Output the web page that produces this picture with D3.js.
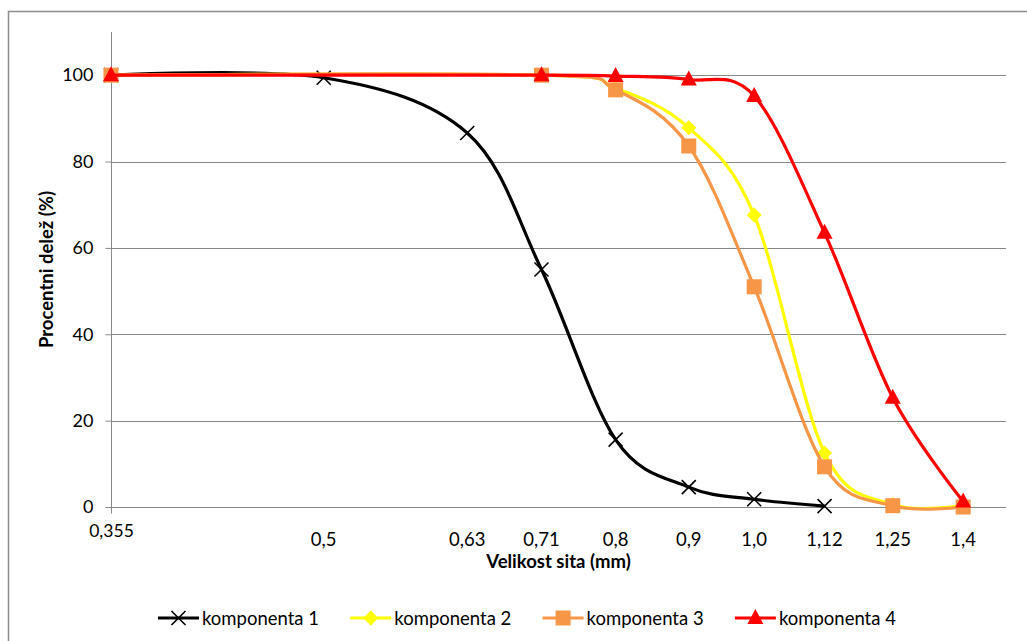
<!DOCTYPE html>
<html><head><meta charset="utf-8">
<script src="https://cdn.jsdelivr.net/npm/d3@7"></script>
<style>body{margin:0;background:#fff} svg{display:block} text{font-family:Lato,"Open Sans",sans-serif;fill:#000}</style>
</head><body><svg id="c" width="1027" height="641"></svg>
<script>
// ---- data ----
const sieveLabelValues = [0.5, 0.63, 0.71, 0.8, 0.9, 1.0, 1.12, 1.25, 1.4];
const sieveLabelTexts  = ["0,5","0,63","0,71","0,8","0,9","1,0","1,12","1,25","1,4"];
const xAxisTicks = [0.355];
const yTicks = [0, 20, 40, 60, 80, 100];
const seriesNames = ["komponenta 1","komponenta 2","komponenta 3","komponenta 4"];
const k1x = [0.355, 0.5, 0.63, 0.71, 0.8, 0.9, 1.0, 1.12];
const k1y = [100, 99.4, 86.6, 55.0, 15.6, 4.6, 1.8, 0.2];
const k2x = [0.355, 0.71, 0.8, 0.9, 1.0, 1.12, 1.25, 1.4];
const k2y = [100, 100, 97.0, 87.8, 67.6, 12.5, 0.6, 0.4];
const k3x = [0.355, 0.71, 0.8, 0.9, 1.0, 1.12, 1.25, 1.4];
const k3y = [100, 100, 96.6, 83.6, 51.0, 9.3, 0.3, 0.0];
const k4x = [0.355, 0.71, 0.8, 0.9, 1.0, 1.12, 1.25, 1.4];
const k4y = [100, 100, 99.8, 99.0, 95.2, 63.5, 25.3, 1.3];

const colors = ["#000000", "#FFFF00", "#F79646", "#FF0000"];
const markerTypes = ["x", "diamond", "square", "triangle"];

const series = [
  {name: seriesNames[0], x: k1x, y: k1y},
  {name: seriesNames[1], x: k2x, y: k2y},
  {name: seriesNames[2], x: k3x, y: k3y},
  {name: seriesNames[3], x: k4x, y: k4y}
];

// ---- layout ----
const svg = d3.select("#c");
const pLeft = 111, pRight = 1006, pTop = 32, pBottom = 507;
const x = d3.scaleLog().domain([0.355, 1.5]).range([pLeft, pRight]);
const y = d3.scaleLinear().domain([0, 110]).range([pBottom, pTop]);
const grid = "#888888";
const fs = 18.5;

// outer border
svg.append("rect").attr("x", 8.5).attr("y", 11.5).attr("width", 1030).attr("height", 640)
  .attr("fill", "none").attr("stroke", "#8c8c8c").attr("stroke-width", 1.5);

// gridlines
svg.append("g").selectAll("line").data(yTicks).join("line")
  .attr("x1", pLeft).attr("x2", pRight)
  .attr("y1", d => Math.round(y(d)) + 0.5).attr("y2", d => Math.round(y(d)) + 0.5)
  .attr("stroke", grid).attr("stroke-width", 1);

// y axis
const yAxis = svg.append("g").attr("transform", `translate(${pLeft + 0.5},0)`)
  .call(d3.axisLeft(y).tickValues(yTicks).tickSize(6).tickPadding(12).tickFormat(d3.format("d")));
yAxis.select(".domain").attr("stroke", grid).attr("d", `M0,${pTop}V${pBottom}`);
yAxis.selectAll(".tick line").attr("stroke", grid);
yAxis.selectAll(".tick text").attr("font-size", 18).attr("font-family", "Lato").attr("fill", "#000");

// x axis (log axis: only the minimum gets a tick)
const xAxis = svg.append("g").attr("transform", `translate(0,${pBottom + 0.5})`)
  .call(d3.axisBottom(x).tickValues(xAxisTicks).tickSize(6).tickPadding(11)
    .tickFormat(d => String(d).replace(".", ",")));
xAxis.select(".domain").remove();
xAxis.selectAll(".tick line").attr("stroke", grid);
xAxis.selectAll(".tick text").attr("font-size", 17.5).attr("font-family", "Lato").attr("fill", "#000");

// sieve size labels
svg.append("g").selectAll("text").data(sieveLabelValues).join("text")
  .attr("x", d => x(d)).attr("y", 546)
  .attr("text-anchor", "middle").attr("font-size", fs)
  .text((d, i) => sieveLabelTexts[i]);

// axis titles
svg.append("text").attr("x", (pLeft + pRight) / 2).attr("y", 568)
  .attr("text-anchor", "middle").attr("font-weight", "bold").attr("font-size", fs)
  .text("Velikost sita (mm)");
svg.append("text").attr("transform", `translate(53,${(pTop + pBottom) / 2}) rotate(-90)`)
  .attr("text-anchor", "middle").attr("font-weight", "bold").attr("font-size", fs)
  .text("Procentni delež (%)");

// markers
function drawMarker(g, type, color) {
  if (type === "x") {
    g.append("path").attr("d", "M-7,-7L7,7M-7,7L7,-7").attr("stroke", color).attr("stroke-width", 1.6).attr("fill", "none");
  } else if (type === "diamond") {
    g.append("path").attr("d", "M0,-7.5L7.5,0L0,7.5L-7.5,0Z").attr("fill", color);
  } else if (type === "square") {
    g.append("rect").attr("x", -7.5).attr("y", -7.5).attr("width", 15).attr("height", 15).attr("fill", color);
  } else {
    g.append("path").attr("d", "M0,-9L8,6L-8,6Z").attr("fill", color);
  }
}

const line = d3.line().x(d => x(d[0])).y(d => y(d[1])).curve(d3.curveCatmullRom.alpha(0));
series.forEach((s, i) => {
  const pts = s.x.map((xv, j) => [xv, s.y[j]]);
  const g = svg.append("g");
  g.append("path").datum(pts).attr("d", line).attr("fill", "none")
    .attr("stroke", colors[i]).attr("stroke-width", 3.2).attr("stroke-linejoin", "round");
  g.selectAll("g.m").data(pts).join("g").attr("class", "m")
    .attr("transform", d => `translate(${x(d[0])},${y(d[1])})`)
    .each(function() { drawMarker(d3.select(this), markerTypes[i], colors[i]); });
});

// legend
const legend = svg.append("g").attr("transform", "translate(158,618)");
seriesNames.forEach((name, i) => {
  const g = legend.append("g").attr("transform", `translate(${i * 192.3},0)`);
  g.append("line").attr("x1", 0).attr("x2", 41).attr("y1", 0).attr("y2", 0)
    .attr("stroke", colors[i]).attr("stroke-width", 3.2);
  const m = g.append("g").attr("transform", "translate(20.5,0)");
  drawMarker(m, markerTypes[i], colors[i]);
  g.append("text").attr("x", 44).attr("y", 6.5).attr("font-size", fs).text(name);
});
</script></body></html>
